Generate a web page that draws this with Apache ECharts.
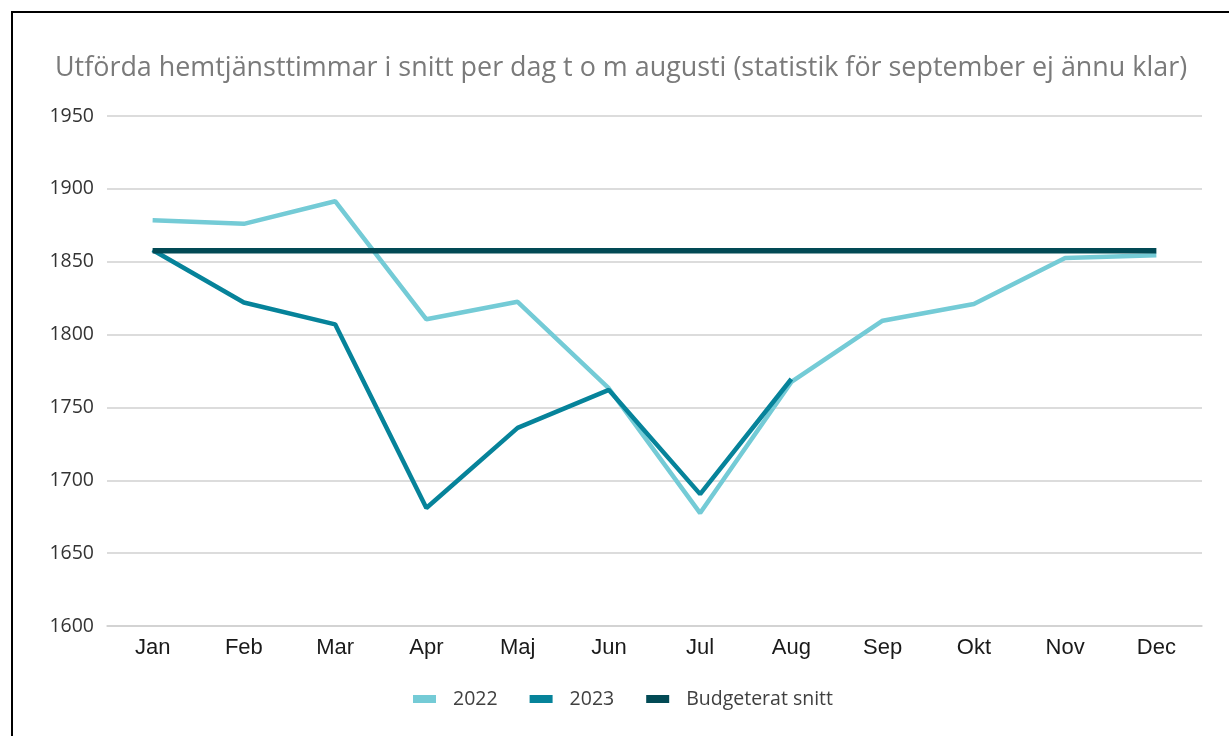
<!DOCTYPE html>
<html>
<head>
<meta charset="utf-8">
<script src="https://cdn.jsdelivr.net/npm/echarts@6/dist/echarts.min.js"></script>
<style>
  body { margin: 0; background: #fff; }
  #main { position: absolute; left: 0; top: 0; width: 1229px; height: 736px; }
  #frame { position: absolute; left: 11px; top: 11px; width: 1240px; height: 740px;
           border-left: 2px solid #000; border-top: 2px solid #000; pointer-events: none; }
</style>
</head>
<body>
<div id="main"></div>
<div id="frame"></div>
<script>
var months = ['Jan', 'Feb', 'Mar', 'Apr', 'Maj', 'Jun', 'Jul', 'Aug', 'Sep', 'Okt', 'Nov', 'Dec'];
var data2022 = [1878.5, 1876, 1891.5, 1810.5, 1822.5, 1763, 1677.5, 1767.5, 1809.5, 1821, 1852.5, 1854.5];
var data2023 = [1858, 1822, 1807, 1681, 1736, 1762, 1690.5, 1769.5];
var budget = [1857.5, 1857.5, 1857.5, 1857.5, 1857.5, 1857.5, 1857.5, 1857.5, 1857.5, 1857.5, 1857.5, 1857.5];

var myChart = echarts.init(document.getElementById('main'));

var option = {
    animation: false,
    title: {
        text: 'Utförda hemtjänsttimmar i snitt per dag t o m augusti (statistik för september ej ännu klar)',
        left: 50,
        top: 50,
        textStyle: {
            fontFamily: 'Open Sans',
            fontWeight: 'normal',
            fontSize: 26.9,
            color: '#7a7a7a'
        }
    },
    legend: {
        bottom: 22,
        left: 408,
        itemWidth: 23,
        itemHeight: 8,
        itemGap: 32,
        icon: 'rect',
        textStyle: { fontFamily: 'Open Sans', fontSize: 19.5, color: '#404040', padding: [0, 0, 0, 12] },
        data: ['2022', '2023', 'Budgeterat snitt']
    },
    grid: { left: 107, right: 27, top: 116, bottom: 110 },
    xAxis: {
        type: 'category',
        data: months,
        axisLine: { lineStyle: { color: '#d0d0d0', width: 1.5 } },
        axisTick: { show: false },
        axisLabel: { fontFamily: 'Liberation Sans', fontSize: 22, color: '#1a1a1a', margin: 11 }
    },
    yAxis: {
        type: 'value',
        min: 1600,
        max: 1950,
        interval: 50,
        axisLine: { show: false },
        axisTick: { show: false },
        splitLine: { lineStyle: { color: '#d0d0d0', width: 1.5 } },
        axisLabel: {
            fontFamily: 'Open Sans', fontSize: 19.5, color: '#333', margin: 13,
            formatter: function (v) { return String(v); }
        }
    },
    series: [
        {
            name: '2022',
            type: 'line',
            data: data2022,
            showSymbol: false,
            symbol: 'none',
            itemStyle: { color: '#74cbd6' },
            lineStyle: { color: '#74cbd6', width: 4.5 }
        },
        {
            name: '2023',
            type: 'line',
            data: data2023,
            showSymbol: false,
            symbol: 'none',
            itemStyle: { color: '#06839a' },
            lineStyle: { color: '#06839a', width: 4.5 }
        },
        {
            name: 'Budgeterat snitt',
            type: 'line',
            data: budget,
            showSymbol: false,
            symbol: 'none',
            itemStyle: { color: '#024a55' },
            lineStyle: { color: '#024a55', width: 5.5 }
        }
    ]
};

myChart.setOption(option);
</script>
</body>
</html>
